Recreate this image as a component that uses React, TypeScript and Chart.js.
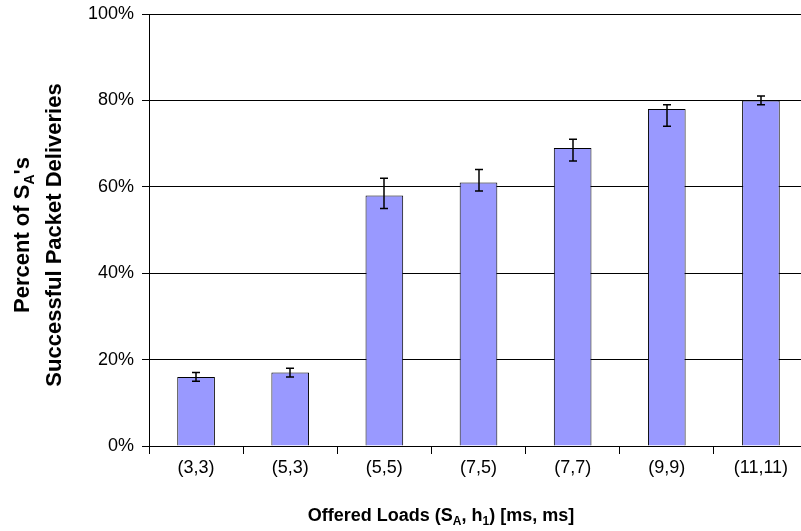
import React, { useEffect, useRef } from "react";
import { Chart, registerables } from "chart.js";

Chart.register(...registerables);

const categories = ["(3,3)", "(5,3)", "(5,5)", "(7,5)", "(7,7)", "(9,9)", "(11,11)"];
const deliveryPercent = [16, 17, 58, 61, 69, 78, 80];
const errorHigh = [17, 18, 62, 64, 71, 79, 81];
const errorLow = [15, 16, 55, 59, 66, 74, 79];
const yTickValues = [0, 20, 40, 60, 80, 100];

const FONT = "'Liberation Sans', Arial, Helvetica, sans-serif";

type Seg = { t: string; sub?: boolean };

function drawRich(ctx: CanvasRenderingContext2D, segs: Seg[], cx: number, baseY: number, size: number) {
  const subSize = Math.round(size * 0.65);
  const main = `bold ${size}px ${FONT}`;
  const small = `bold ${subSize}px ${FONT}`;
  let total = 0;
  for (const s of segs) {
    ctx.font = s.sub ? small : main;
    total += ctx.measureText(s.t).width;
  }
  let x = cx - total / 2;
  ctx.textAlign = "left";
  ctx.textBaseline = "alphabetic";
  for (const s of segs) {
    ctx.font = s.sub ? small : main;
    ctx.fillText(s.t, x, s.sub ? baseY + size * 0.22 : baseY);
    x += ctx.measureText(s.t).width;
  }
}

const titlePlugin = {
  id: "richTitles",
  afterDraw(chart: any) {
    const ctx: CanvasRenderingContext2D = chart.ctx;
    ctx.save();
    ctx.fillStyle = "#000";
    drawRich(
      ctx,
      [{ t: "Offered Loads (S" }, { t: "A", sub: true }, { t: ", h" }, { t: "1", sub: true }, { t: ") [ms, ms]" }],
      441,
      521,
      18
    );
    ctx.save();
    ctx.translate(29, 235);
    ctx.rotate(-Math.PI / 2);
    drawRich(ctx, [{ t: "Percent of S" }, { t: "A", sub: true }, { t: "'s" }], 0, 0, 22);
    ctx.restore();
    ctx.save();
    ctx.translate(61, 235);
    ctx.rotate(-Math.PI / 2);
    drawRich(ctx, [{ t: "Successful Packet Deliveries" }], 0, 0, 22);
    ctx.restore();
    ctx.restore();
  },
};

const errorBarPlugin = {
  id: "errorBars",
  afterDatasetsDraw(chart: any) {
    const ctx: CanvasRenderingContext2D = chart.ctx;
    const meta = chart.getDatasetMeta(0);
    const yScale = chart.scales.y;
    ctx.save();
    ctx.strokeStyle = "#000";
    ctx.lineWidth = 1.5;
    meta.data.forEach((bar: any, i: number) => {
      const x = Math.round(bar.x);
      const yh = yScale.getPixelForValue(errorHigh[i]);
      const yl = yScale.getPixelForValue(errorLow[i]);
      ctx.beginPath();
      ctx.moveTo(x, yh);
      ctx.lineTo(x, yl);
      ctx.moveTo(x - 4, yh);
      ctx.lineTo(x + 4, yh);
      ctx.moveTo(x - 4, yl);
      ctx.lineTo(x + 4, yl);
      ctx.stroke();
    });
    ctx.restore();
  },
};

export default function App() {
  const ref = useRef<HTMLCanvasElement | null>(null);
  useEffect(() => {
    if (!ref.current) return;
    const chart = new Chart(ref.current, {
      type: "bar",
      data: {
        labels: categories,
        datasets: [
          {
            data: deliveryPercent,
            backgroundColor: "#9999FF",
            borderColor: "#000000",
            borderWidth: 1,
            barPercentage: 0.4,
            categoryPercentage: 1,
          },
        ],
      },
      options: {
        responsive: false,
        animation: false,
        layout: { padding: { left: 0, right: 12, top: 14, bottom: 0 } },
        plugins: { legend: { display: false }, tooltip: { enabled: false }, title: { display: false } },
        scales: {
          x: {
            ticks: { color: "#000", font: { family: FONT, size: 18 }, padding: 3, maxRotation: 0, autoSkip: false },
            grid: { drawOnChartArea: false, drawTicks: true, tickLength: 8, color: "#000", offset: true },
            border: { color: "#000", width: 1 },
            afterFit: (s: any) => {
              s.height = 85;
              s.paddingLeft = 0;
              s.paddingRight = 0;
            },
          },
          y: {
            min: 0,
            max: 100,
            afterBuildTicks: (s: any) => {
              s.ticks = yTickValues.map((v) => ({ value: v }));
            },
            ticks: { color: "#000", font: { family: FONT, size: 18 }, padding: 8, callback: (v: any) => v + "%" },
            grid: { color: "#000", lineWidth: 1, tickLength: 7, drawTicks: true },
            border: { color: "#000", width: 1 },
            afterFit: (s: any) => {
              s.width = 149;
              s.paddingTop = 0;
              s.paddingBottom = 0;
            },
          },
        },
      },
      plugins: [errorBarPlugin, titlePlugin],
    });
    return () => chart.destroy();
  }, []);
  return (
    <div style={{ position: "fixed", left: 0, top: 0, width: 801, height: 531, overflow: "hidden", background: "#fff" }}>
      <canvas ref={ref} width={820} height={531} style={{ width: 820, height: 531, display: "block" }} />
    </div>
  );
}
